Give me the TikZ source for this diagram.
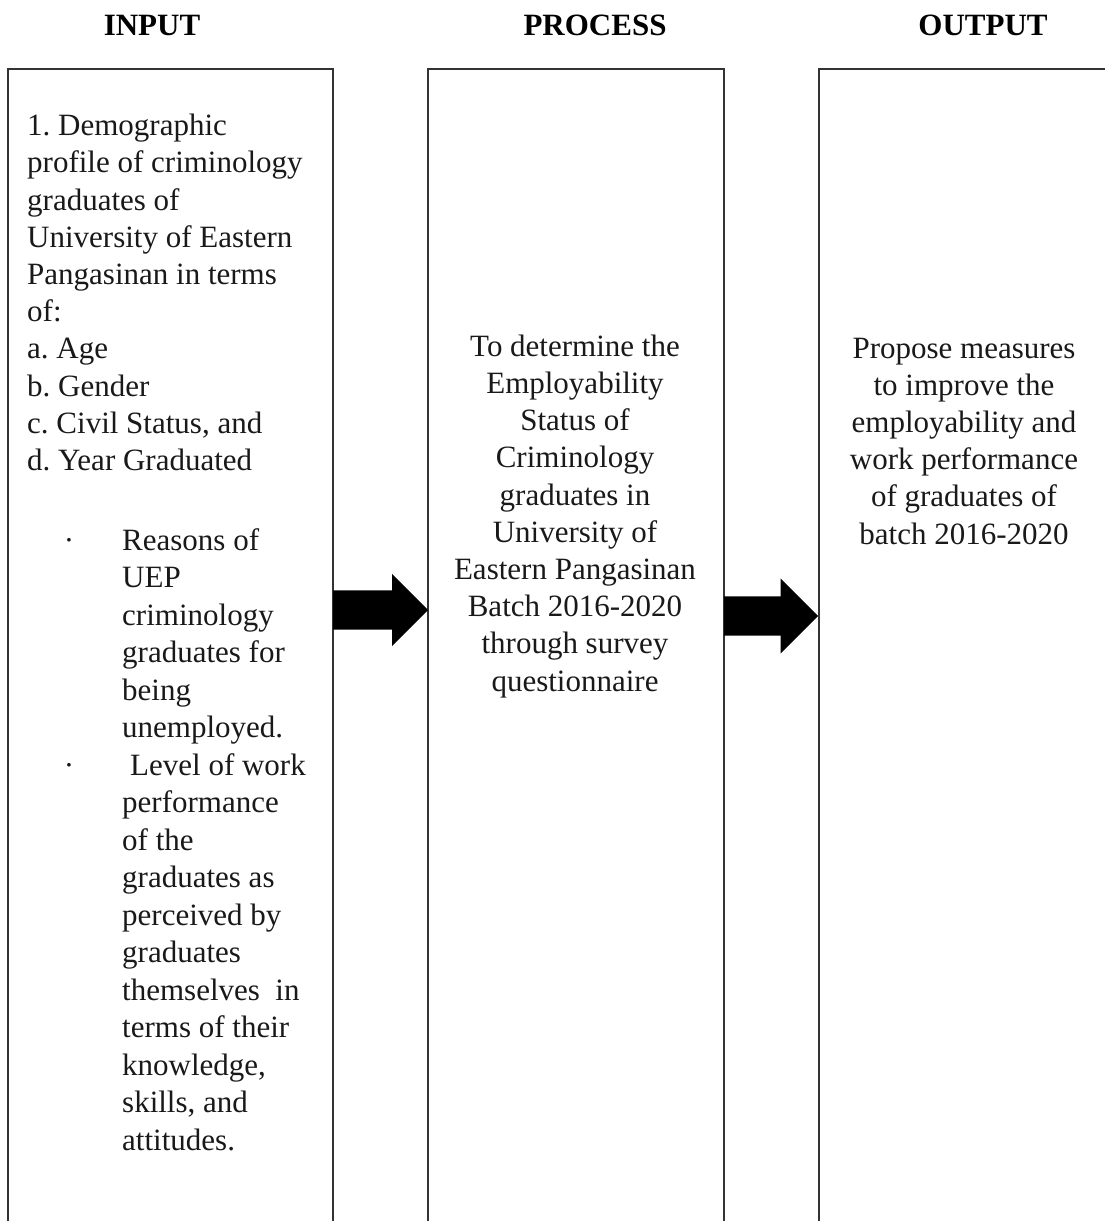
\documentclass[tikz,border=0pt]{standalone}
\usepackage{fontspec}
\setmainfont{Liberation Serif}
\usetikzlibrary{positioning}
\usetikzlibrary{shapes.arrows}
\definecolor{framegray}{HTML}{333333}
\tikzset{
    column/.style={
           rectangle,
           draw=framegray, line width=2pt,
           outer sep=0pt,
           anchor=north west,
           minimum height=1180pt,
           },
    heading/.style={
           font=\fontsize{31}{37}\selectfont\bfseries,
           anchor=base,
           inner sep=0pt
           },
    body/.style={
           font=\fontsize{31}{37.2}\selectfont\frenchspacing,
           text=black!90,
           inner sep=0pt
           },
    bigarrow/.style={
           single arrow, fill=black, draw=none,
           minimum height=95pt,
           inner xsep=0pt, inner ysep=19.5pt, anchor=tail
           },
}

\begin{document}
\begin{tikzpicture}[x=1pt,y=-1pt]
  \clip (0,0) rectangle (1105,1221);
     % headings
     \node[heading] (hin)   at (152,35) {INPUT};
     \node[heading] (hproc) at (595,35) {PROCESS};
     \node[heading] (hout)  at (983,35) {OUTPUT};
     % the three columns, open at the bottom
     \node[column, minimum width=325pt] (inbox)   at (8,69)   {};
     \node[column, minimum width=296pt] (procbox) at (428,69) {};
     \node[column, minimum width=290pt] (outbox)  at (819,69) {};
     % input (base = last line)
     \node[body, align=left, anchor=base west] (demo) at (27,470.5)
       {1. Demographic\\profile of criminology\\graduates of\\University of Eastern\\
        Pangasinan in terms\\of:\\a. Age\\b. Gender\\c. Civil Status, and\\d. Year Graduated};
     \node[body, anchor=base] (dot1) at (69,550) {·};
     \node[body, anchor=base] (dot2) at (69,775) {·};
     \node[body, align=left, anchor=base west, font=\fontsize{31}{37.5}\selectfont] (items) at (122,1150)
       {Reasons of\\UEP\\criminology\\graduates for\\being\\unemployed.\\
        \hspace*{8pt}Level of work\\performance\\of the\\graduates as\\perceived by\\graduates\\
        themselves\ \ in\\terms of their\\knowledge,\\skills, and\\attitudes.};
     % process
     \node[body, align=center, anchor=base] (proc) at (575,691)
       {To determine the\\Employability\\Status of\\Criminology\\graduates in\\University of\\
        Eastern Pangasinan\\Batch 2016-2020\\through survey\\questionnaire};
     % output
     \node[body, align=center, anchor=base] (out) at (964,544)
       {Propose measures\\to improve the\\employability and\\work performance\\
        of graduates of\\batch 2016-2020};
     % arrows
     \node[bigarrow, minimum width=72pt, single arrow head extend=16.5pt]
       (a1) at (inbox.east |- 0,610) {};
     \node[bigarrow, minimum width=75pt, single arrow head extend=18pt, minimum height=94pt]
       (a2) at (procbox.east |- 0,616) {};
  \end{tikzpicture}
\end{document}
